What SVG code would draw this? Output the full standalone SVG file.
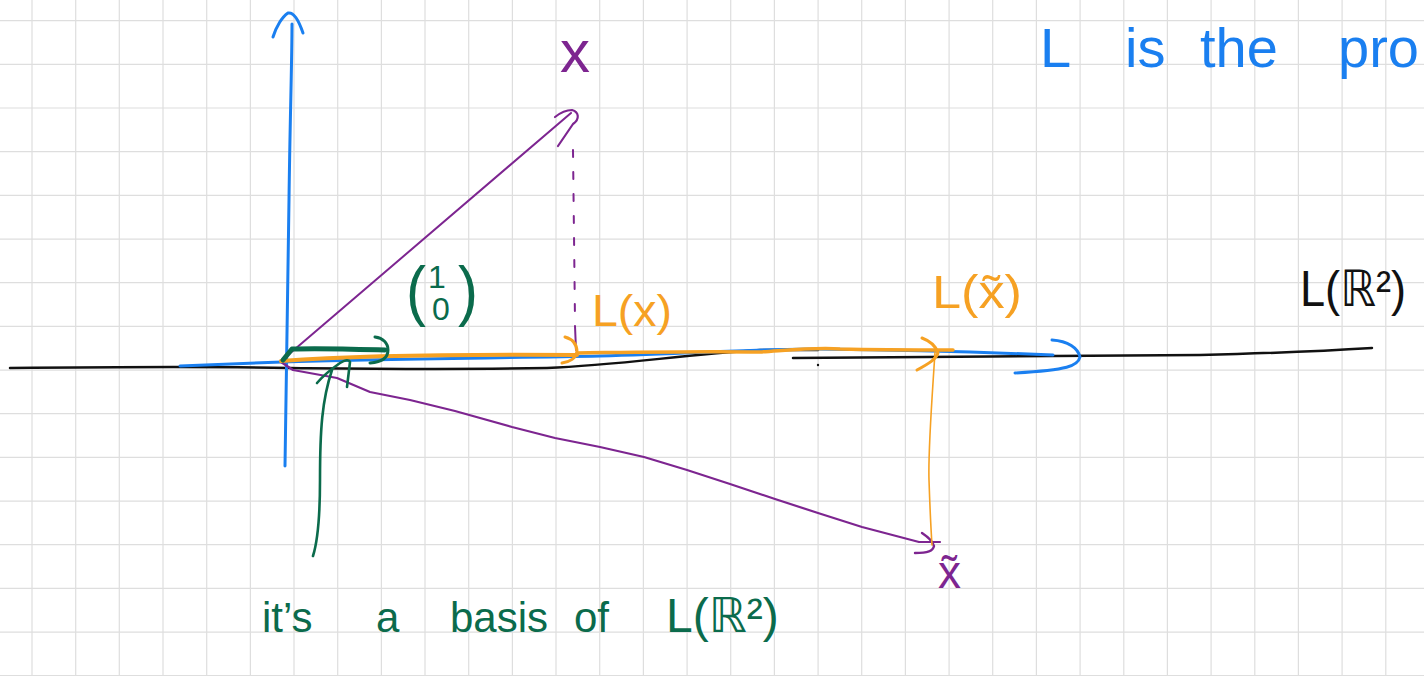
<svg xmlns="http://www.w3.org/2000/svg" width="1424" height="676" viewBox="0 0 1424 676">
<style>
.grid{stroke:#dedede;stroke-width:1.2;fill:none}
.s{fill:none;stroke-linecap:round;stroke-linejoin:round}
.blue{stroke:#1a7ff0}
.purple{stroke:#7d2590}
.orange{stroke:#f6a123}
.green{stroke:#0b6b4c}
.black{stroke:#111}
.t{font-family:"Liberation Sans","DejaVu Sans",sans-serif}
.tb{fill:#1a7ff0}.tp{fill:#7d2590}.to{fill:#f6a123}.tg{fill:#0b6b4c}.tk{fill:#111}
</style>
<rect width="1424" height="676" fill="#fff"/>
<g id="grid">
<path class="grid" d="M32,0V676M75.7,0V676M119.3,0V676M163,0V676M206.7,0V676M250.4,0V676M294,0V676M337.7,0V676M381.4,0V676M425,0V676M468.7,0V676M512.4,0V676M556,0V676M599.7,0V676M643.4,0V676M687.1,0V676M730.7,0V676M774.4,0V676M818.1,0V676M861.7,0V676M905.4,0V676M949.1,0V676M992.7,0V676M1036.4,0V676M1080.1,0V676M1123.8,0V676M1167.4,0V676M1211.1,0V676M1254.8,0V676M1298.4,0V676M1342.1,0V676M1385.8,0V676"/>
<path class="grid" d="M0,20.7H1424M0,64.4H1424M0,108H1424M0,151.7H1424M0,195.4H1424M0,239.1H1424M0,282.7H1424M0,326.4H1424M0,370.1H1424M0,413.7H1424M0,457.4H1424M0,501.1H1424M0,544.7H1424M0,588.4H1424M0,632.1H1424M0,675.5H1424"/>
</g>
<g id="connectors">
<g id="black-axis">
<path class="s black" stroke-width="2.5" d="M10,368 C100,367 200,366 290,368 C380,369 450,370 547,368 C620,365 680,355 760,350 L818,350"/>
<path class="s black" stroke-width="2.5" d="M793,358 C900,356 1100,357 1200,355 C1280,353 1340,350 1372,348"/>
<circle cx="818" cy="365" r="1.2" fill="#111"/>
</g>
<g id="blue-axes">
<path class="s blue" stroke-width="3" d="M285,466 C286,400 288,300 289,200 C290,120 292,60 292,24"/>
<path class="s blue" stroke-width="3" d="M273,37 C276,27 282,17 288,13 C293,12 298,18 303,33"/>
<path class="s blue" stroke-width="3" d="M180,366 L282,362 C380,359 500,358 600,356 C700,353 760,349 817,349 C900,350 980,352 1053,355"/>
<path class="s blue" stroke-width="3" d="M1052,340 C1068,341 1078,348 1080,357 C1078,366 1068,370 1015,373"/>
</g>
<g id="purple-vectors">
<path class="s purple" stroke-width="2" d="M281,361 L571,113"/>
<path class="s purple" stroke-width="2.2" d="M555,117 C560,113 566,110 572,110 C579,112 580,119 573,124 L558,146"/>
<path class="s purple" stroke-width="2" stroke-dasharray="7 15" d="M573,150 L575,320"/>
<path class="s purple" stroke-width="2" d="M575,326 L576,350"/>
<path class="s purple" stroke-width="2.2" d="M281,362 L293,370 L337,378 L370,392 L410,400 L455,411 L512,427 L555,438 L600,447 L644,457 L687,470 L730,484 L775,499 L818,513 L862,527 L919,542 L940,542"/>
<path class="s purple" stroke-width="2.4" d="M922,533 C928,537 933,542 934,546 C933,551 928,553 915,553"/>
</g>
<g id="orange-vectors">
<path class="s orange" stroke-width="4" d="M281,361 C350,356 450,354 577,355"/>
<path class="s orange" stroke-width="3" d="M565,337 C572,339 577,344 577,352 C576,358 570,362 562,363"/>
<path class="s orange" stroke-width="3.5" d="M577,353 C650,352 700,351 760,352 C790,350 817,347 840,349 C880,350 920,350 953,350"/>
<path class="s orange" stroke-width="3" d="M922,338 C930,341 936,346 938,353 C936,359 930,363 917,370"/>
<path class="s orange" stroke-width="1.6" d="M935,352 C932,400 928,450 929,480 C930,510 931,530 932,545"/>
</g>
<g id="green-vectors">
<path class="s green" stroke-width="5" d="M283,360 L292,349 C320,348 350,349 385,350"/>
<path class="s green" stroke-width="3" d="M375,337 C383,338 388,343 388,350 C388,357 383,362 370,363"/>
<path class="s green" stroke-width="2.6" d="M313,556 C318,540 320,520 320,480 C320,430 322,400 332,370"/>
<path class="s green" stroke-width="2.6" d="M317,383 C322,377 330,370 340,363 C345,360 349,359 350,362 L347,387"/>
</g>
</g>
<g id="label-top">
<text class="t tb" font-size="56" y="67"><tspan x="1040">L</tspan> <tspan x="1125">is</tspan> <tspan x="1200">the</tspan> <tspan x="1338">pro</tspan></text>
</g>
<g id="label-x">
<text class="t tp" font-size="60" x="560" y="72">x</text>
</g>
<g id="label-x-tilde">
<text class="t tp" font-size="46" x="938" y="588">x̃</text>
</g>
<g id="label-Lx">
<text class="t to" font-size="44" x="592" y="326" textLength="80" lengthAdjust="spacingAndGlyphs">L(x)</text>
</g>
<g id="label-Lx-tilde">
<text class="t to" font-size="46" x="932" y="308" textLength="90" lengthAdjust="spacingAndGlyphs">L(x̃)</text>
</g>
<g id="label-LR2">
<text class="t tk" font-size="50" x="1300" y="306" textLength="106" lengthAdjust="spacingAndGlyphs">L(ℝ²)</text>
</g>
<g id="label-vector-10">
<text class="t tg" font-size="60" x="406" y="312" transform="translate(0,-30) scale(1,1.1)">(</text>
<text class="t tg" font-size="32" x="428" y="288">1</text>
<text class="t tg" font-size="32" x="432" y="320">0</text>
<text class="t tg" font-size="60" x="458" y="312" transform="translate(0,-30) scale(1,1.1)">)</text>
</g>
<g id="label-basis">
<text class="t tg" font-size="42" y="632"><tspan x="262">it’s</tspan> <tspan x="376">a</tspan> <tspan x="450">basis</tspan> <tspan x="574">of</tspan> <tspan x="666" font-size="48">L(ℝ²)</tspan></text>
</g>
</svg>
